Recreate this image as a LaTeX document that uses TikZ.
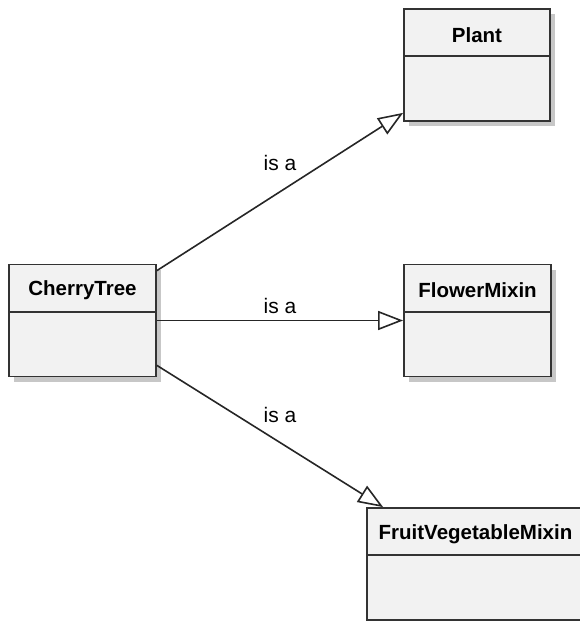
\documentclass[tikz,border=0pt]{standalone}
\usepackage{fontspec}
\setmainfont{Liberation Sans}
\usetikzlibrary{arrows.meta,shadows,positioning}
\definecolor{boxfill}{HTML}{F2F2F2}
\definecolor{boxline}{HTML}{333333}
\tikzset{
  classbox/.style  = {draw=boxline, fill=boxfill, line width=1.8pt, inner sep=0pt,
                      minimum height=112pt,
                      drop shadow={shadow xshift=5pt, shadow yshift=-5pt,
                                   fill=black!22, opacity=1}},
  classname/.style = {inner sep=0pt, minimum height=48pt, yshift=-2.5pt,
                      font=\fontsize{20.5}{24}\selectfont\bfseries},
  isa/.style       = {draw=black!85, line width=1.6pt,
                      -{Triangle[open, length=25pt, width=19pt, fill=white]}},
  isalabel/.style  = {inner sep=0pt, font=\fontsize{21}{25}\selectfont}
}

\begin{document}
\begin{tikzpicture}[x=1pt, y=-1pt]
\useasboundingbox (0,0) rectangle (580,621);
\clip (0,0) rectangle (580,621);

% the classes
\node[classbox, minimum width=147pt] (cherry) at (82.5,320.5) {};
\node[classbox, minimum width=146pt] (plant)  at (477,65) {};
\node[classbox, minimum width=147pt] (flower) at (477.5,320.5) {};
\node[classbox, minimum width=217pt] (fruit)  at (475.5,564) {};

% class names and the line under them
\foreach \cls/\txt in {cherry/CherryTree, plant/Plant, flower/FlowerMixin,
                       fruit/FruitVegetableMixin}{
  \node[classname, below=0pt of \cls.north] (\cls-name) {\txt};
  \draw[boxline, line width=1.8pt] ([yshift=-48pt]\cls.north west) -- ([yshift=-48pt]\cls.north east);
}

% inheritance
\draw[isa] ([yshift=-7pt]cherry.north east) -- ([yshift=9pt]plant.south west);
\draw[isa] (cherry.east) -- (flower.west);
\draw[isa] ([yshift=12pt]cherry.south east) -- ([xshift=17pt]fruit.north west);

\node[isalabel] (isa1) at (280,163) {is a};
\node[isalabel] (isa2) at (280,306) {is a};
\node[isalabel] (isa3) at (280,415) {is a};
\end{tikzpicture}
\end{document}
